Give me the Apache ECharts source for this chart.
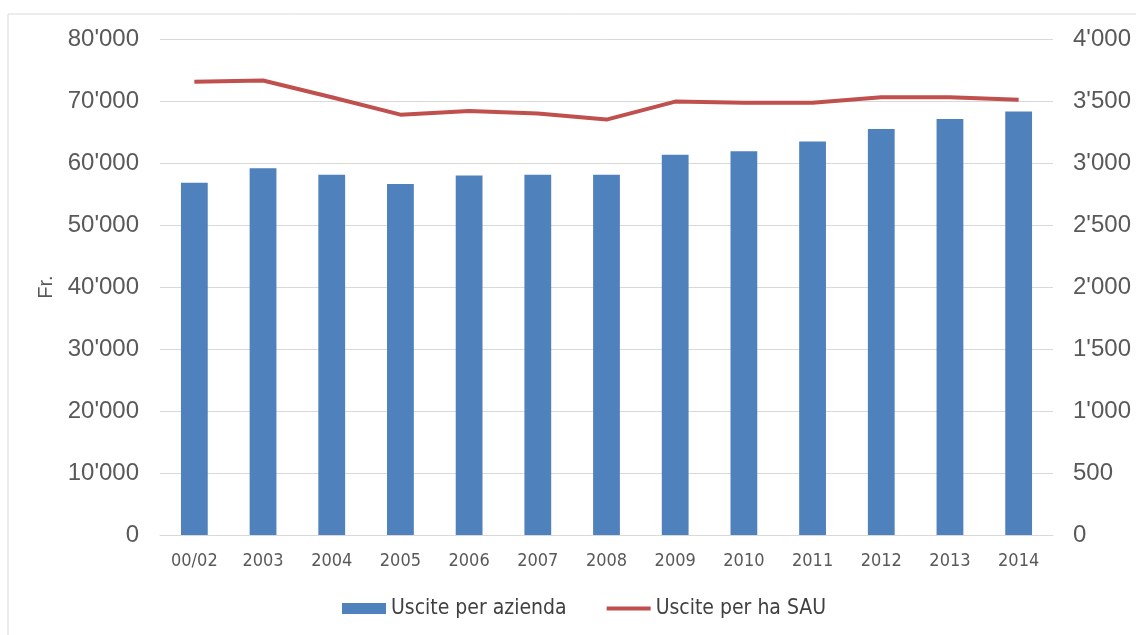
<!DOCTYPE html>
<html><head><meta charset="utf-8">
<script src="https://cdn.jsdelivr.net/npm/echarts@6/dist/echarts.min.js"></script>
<style>html,body{margin:0;padding:0;background:#fff}#c{width:1136px;height:635px}</style>
</head><body><div id="c"></div>
<script>
const categories = ['00/02','2003','2004','2005','2006','2007','2008','2009','2010','2011','2012','2013','2014'];
const usciteAzienda = [56800,59150,58100,56600,58000,58100,58100,61350,61900,63450,65500,67100,68300];
const usciteHaSAU = [3655,3665,3530,3390,3420,3400,3350,3495,3485,3485,3530,3530,3510];
const leftTicks = {min:0, max:80000, interval:10000};
const rightTicks = {min:0, max:4000, interval:500};
const seriesNames = ['Uscite per azienda','Uscite per ha SAU'];
const yName = 'Fr.';

function fmt(v){ return String(v).replace(/\B(?=(\d{3})+(?!\d))/g, "'"); }
const narrow = '"DejaVu Sans Condensed","Liberation Sans Narrow",sans-serif';
const arial = '"Liberation Sans",Arial,sans-serif';
const chart = echarts.init(document.getElementById('c'));
chart.setOption({
  animation:false,
  backgroundColor:'#fff',
  graphic:[{type:'rect',shape:{x:8,y:14,width:1140,height:640},style:{fill:'none',stroke:'#d9d9d9',lineWidth:1}}],
  grid:{left:160,right:83,top:39,bottom:100},
  legend:{top:593,left:337,itemGap:40,itemWidth:44,itemHeight:11,
    textStyle:{fontFamily:narrow,fontSize:21,color:'#404040'},
    data:[{name:seriesNames[0],icon:'rect'},
          {name:seriesNames[1],icon:'path://M0,0L44,0L44,4L0,4Z',itemStyle:{color:'#c0504d'}}]},
  xAxis:{type:'category',data:categories,
    axisLine:{lineStyle:{color:'#d9d9d9',width:1}},axisTick:{show:false},
    axisLabel:{fontFamily:narrow,fontSize:18,color:'#595959',margin:17}},
  yAxis:[
    {type:'value',min:leftTicks.min,max:leftTicks.max,interval:leftTicks.interval,
     name:yName,nameLocation:'middle',nameGap:104,nameRotate:90,
     nameTextStyle:{fontFamily:arial,fontSize:20,color:'#595959'},
     axisLine:{show:false},axisTick:{show:false},
     splitLine:{lineStyle:{color:'#d9d9d9',width:1}},
     axisLabel:{formatter:fmt,fontFamily:arial,fontSize:24,color:'#595959',margin:21}},
    {type:'value',min:rightTicks.min,max:rightTicks.max,interval:rightTicks.interval,
     axisLine:{show:false},axisTick:{show:false},splitLine:{show:false},
     axisLabel:{formatter:fmt,fontFamily:arial,fontSize:24,color:'#595959',margin:20}}
  ],
  series:[
    {name:seriesNames[0],type:'bar',data:usciteAzienda,barWidth:'39%',itemStyle:{color:'#4f81bd'}},
    {name:seriesNames[1],type:'line',yAxisIndex:1,data:usciteHaSAU,symbol:'none',
     lineStyle:{color:'#c0504d',width:4},itemStyle:{color:'#c0504d'}}
  ]
});
</script></body></html>
